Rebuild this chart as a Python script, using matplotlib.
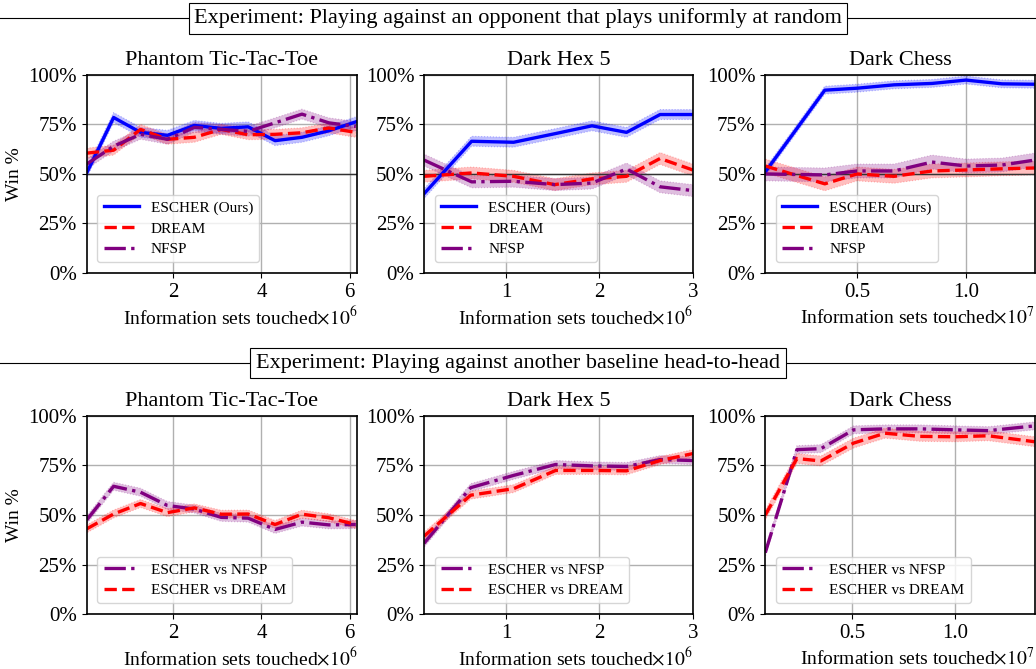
import matplotlib
matplotlib.use('Agg')
import matplotlib.pyplot as plt
from matplotlib.lines import Line2D
import numpy as np

plt.rcParams['font.family'] = ['Liberation Serif', 'DejaVu Serif']
plt.rcParams['mathtext.fontset'] = 'stix'

# ---- top row: against uniform random opponent ----
pttt_x = [0.04, 0.65, 1.26, 1.87, 2.48, 3.09, 3.70, 4.31, 4.92, 5.53, 6.14]
pttt_escher = [50.5, 78.5, 71.0, 69.5, 74.5, 73.0, 73.8, 66.8, 68.5, 71.8, 76.3]
pttt_dream = [60.5, 62.0, 72.5, 67.5, 68.5, 72.5, 69.8, 70.0, 70.8, 73.2, 71.0]
pttt_nfsp = [55.0, 64.0, 70.0, 67.5, 73.5, 72.5, 71.5, 75.8, 80.2, 75.8, 74.0]

dh5_x = [0.12, 0.63, 1.08, 1.52, 1.92, 2.29, 2.65, 3.0]
dh5_escher = [40.0, 66.5, 66.0, 70.3, 74.3, 71.0, 80.0, 80.0]
dh5_dream = [48.8, 50.5, 48.8, 44.6, 47.5, 48.8, 57.8, 52.0]
dh5_nfsp = [57.0, 46.0, 46.3, 44.6, 45.4, 52.5, 43.5, 41.6]

dc_x = [0.079, 0.352, 0.50, 0.67, 0.844, 1.0, 1.165, 1.315]
dc_escher = [51.0, 92.3, 93.3, 95.0, 95.7, 97.4, 95.5, 95.3]
dc_dream = [54.0, 45.0, 50.0, 48.8, 51.5, 52.0, 52.6, 53.0]
dc_nfsp = [50.0, 49.5, 51.5, 51.5, 56.0, 54.0, 54.5, 57.0]

# ---- bottom row: head-to-head ----
h_pttt_nfsp = [47.5, 64.5, 61.5, 54.8, 53.0, 48.8, 48.4, 42.7, 46.4, 45.0, 45.2]
h_pttt_dream = [43.0, 50.5, 55.8, 51.2, 53.6, 50.4, 50.5, 45.2, 50.4, 48.6, 45.2]

h_dh5_x = [0.12, 0.62, 1.08, 1.53, 1.92, 2.29, 2.65, 3.0]
h_dh5_nfsp = [35.7, 63.8, 70.0, 75.5, 74.8, 74.5, 78.0, 77.5]
h_dh5_dream = [39.3, 60.0, 63.3, 72.5, 72.5, 72.3, 77.5, 81.0]

h_dc_x = [0.081, 0.234, 0.35, 0.508, 0.66, 0.83, 1.0, 1.16, 1.384]
h_dc_nfsp = [31.0, 83.0, 83.5, 93.0, 93.5, 93.5, 93.0, 92.6, 95.0]
h_dc_dream = [50.0, 78.5, 77.3, 86.3, 91.3, 89.7, 89.5, 90.0, 87.0]

# half widths of the shaded bands
err_top = {'pttt': (2.5, 2.5, 2.5), 'dh5': (2.5, 3.0, 3.0), 'dc': (2.0, 3.5, 3.5)}
err_bot = {'pttt': (2.0, 2.0), 'dh5': (2.0, 2.0), 'dc': (2.0, 2.5)}

titles = ['Phantom Tic-Tac-Toe', 'Dark Hex 5', 'Dark Chess']
xlabels = [r'Information sets touched$\times10^6$',
           r'Information sets touched$\times10^6$',
           r'Information sets touched$\times10^7$']
xticks = [[2, 4, 6], [1, 2, 3], [0.5, 1.0]]
xticklabels = [['2', '4', '6'], ['1', '2', '3'], ['0.5', '1.0']]

BLUE = '#0000ff'
RED = '#ff0000'
PURPLE = '#800080'
STYLES = {'escher': (BLUE, '-'), 'dream': (RED, '--'), 'nfsp': (PURPLE, '-.')}


def draw(ax, x, series, col, xlim, midline):
  for label, y, err, key in series:
    c, ls = STYLES[key]
    y = np.array(y)
    ax.fill_between(x, y - err, y + err, facecolor=c, alpha=0.25,
                    edgecolor=c, linestyle=':', linewidth=0.8)
    ax.plot(x, y, color=c, linestyle=ls, linewidth=2.4, label=label)
  if midline:
    ax.axhline(50, color='#333333', linewidth=1.0, zorder=1)
  ax.set_ylim(0, 100)
  ax.set_xlim(*xlim)
  ax.set_yticks([0, 25, 50, 75, 100])
  ax.set_yticklabels(['0%', '25%', '50%', '75%', '100%'])
  ax.set_xticks(xticks[col])
  ax.set_xticklabels(xticklabels[col])
  ax.grid(True, color='#b0b0b0', linewidth=1.0)
  ax.set_axisbelow(True)
  ax.tick_params(labelsize=15, length=3.5)
  ax.set_title(titles[col], fontsize=16, pad=7)
  ax.set_xlabel(xlabels[col], fontsize=14, loc='right', labelpad=3)
  if col == 0:
    ax.set_ylabel('Win %', fontsize=14)
  for s in ax.spines.values():
    s.set_linewidth(1.2)
  ax.legend(loc='lower left', fontsize=11, handlelength=2.3, labelspacing=0.45,
            borderaxespad=0.7, framealpha=0.8, edgecolor='#cccccc')


fig = plt.figure(figsize=(10.36, 6.69), dpi=100)
lefts = [0.0837, 0.4093, 0.7387]
widths = [0.261, 0.2594, 0.26]
top_axes = [fig.add_axes([lefts[i], 0.592, widths[i], 0.296]) for i in range(3)]
bot_axes = [fig.add_axes([lefts[i], 0.0822, widths[i], 0.296]) for i in range(3)]

e = err_top['pttt']
draw(top_axes[0], pttt_x, [('ESCHER (Ours)', pttt_escher, e[0], 'escher'),
                           ('DREAM', pttt_dream, e[1], 'dream'),
                           ('NFSP', pttt_nfsp, e[2], 'nfsp')], 0, (0.04, 6.17), True)
e = err_top['dh5']
draw(top_axes[1], dh5_x, [('ESCHER (Ours)', dh5_escher, e[0], 'escher'),
                          ('DREAM', dh5_dream, e[1], 'dream'),
                          ('NFSP', dh5_nfsp, e[2], 'nfsp')], 1, (0.12, 3.0), True)
e = err_top['dc']
draw(top_axes[2], dc_x, [('ESCHER (Ours)', dc_escher, e[0], 'escher'),
                         ('DREAM', dc_dream, e[1], 'dream'),
                         ('NFSP', dc_nfsp, e[2], 'nfsp')], 2, (0.079, 1.315), True)

e = err_bot['pttt']
draw(bot_axes[0], pttt_x, [('ESCHER vs NFSP', h_pttt_nfsp, e[0], 'nfsp'),
                           ('ESCHER vs DREAM', h_pttt_dream, e[1], 'dream')], 0, (0.04, 6.17), False)
e = err_bot['dh5']
draw(bot_axes[1], h_dh5_x, [('ESCHER vs NFSP', h_dh5_nfsp, e[0], 'nfsp'),
                            ('ESCHER vs DREAM', h_dh5_dream, e[1], 'dream')], 1, (0.12, 3.0), False)
e = err_bot['dc']
draw(bot_axes[2], h_dc_x, [('ESCHER vs NFSP', h_dc_nfsp, e[0], 'nfsp'),
                           ('ESCHER vs DREAM', h_dc_dream, e[1], 'dream')], 2, (0.081, 1.384), False)

# section headers
headers = [(0.973, 'Experiment: Playing against an opponent that plays uniformly at random'),
           (0.457, 'Experiment: Playing against another baseline head-to-head')]
for y, txt in headers:
  fig.add_artist(Line2D([0, 1], [y, y], transform=fig.transFigure, color='k', linewidth=0.8))
  fig.text(0.5, y, txt, ha='center', va='center', fontsize=16,
           bbox=dict(boxstyle='square,pad=0.25', facecolor='white', edgecolor='k', linewidth=0.8))

fig.savefig('out.png', dpi=100)
